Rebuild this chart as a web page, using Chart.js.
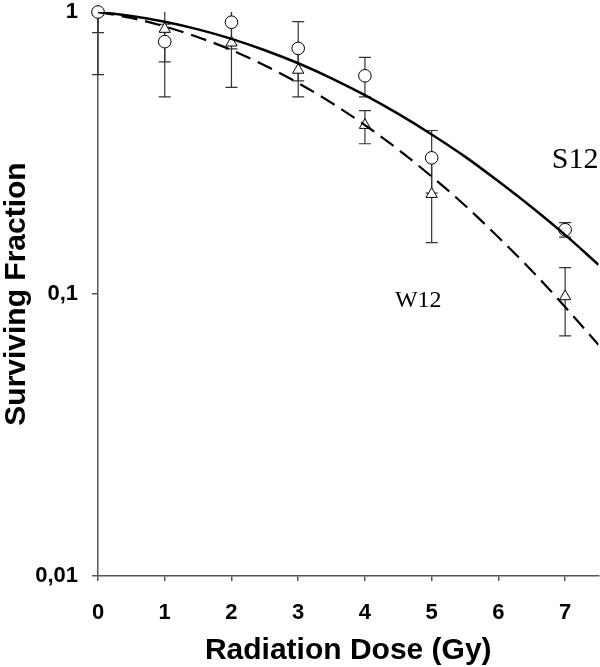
<!DOCTYPE html>
<html>
<head>
<meta charset="utf-8">
<script src="https://cdn.jsdelivr.net/npm/chart.js@4.4.1/dist/chart.umd.min.js"></script>
<style>
  body { margin: 0; background: #fff; overflow: hidden; }
  #wrap { width: 606px; height: 667px; }
</style>
</head>
<body>
<div id="wrap"><canvas id="myChart"></canvas></div>
<script>
/* measured points (dose in Gy) */
var doses = [0, 1, 2, 3, 4, 5, 7];
var s12Mean = [1.0, 0.785, 0.92, 0.743, 0.594, 0.304, 0.169];
var s12Low = [0.845, 0.665, 0.74, 0.57, 0.5, 0.228, 0.159];
var s12High = [1.155, 0.905, 1.1, 0.925, 0.69, 0.38, 0.179];
var w12Mean = [1.0, 0.87, 0.778, 0.623, 0.397, 0.226, 0.098];
var w12Low = [0.6, 0.5, 0.54, 0.5, 0.341, 0.152, 0.071];
var w12High = [1.4, 1.24, 1.02, 0.745, 0.447, 0.30, 0.124];

/* fitted curves */
var fitDoses = [0, 0.5, 1, 1.5, 2, 2.5, 3, 3.5, 4, 4.5, 5, 5.5, 6, 6.5, 7, 7.5];
var s12Fit = [1, 0.968, 0.924, 0.868, 0.803, 0.732, 0.658, 0.582, 0.507, 0.435, 0.368, 0.307, 0.251, 0.203, 0.162, 0.127];
var w12Fit = [1, 0.952, 0.889, 0.814, 0.733, 0.646, 0.560, 0.476, 0.397, 0.325, 0.261, 0.206, 0.159, 0.121, 0.090, 0.066];

/* axes */
var xTicks = [0, 1, 2, 3, 4, 5, 6, 7];
var yTicks = [0.01, 0.1, 1];
var yTickLabels = ['0,01', '0,1', '1'];

/* curve labels (data coords) */
var curveLabels = ['S12', 'W12'];
var curveLabelX = [6.8, 4.45];
var curveLabelY = [0.28, 0.09];

function toPoints(xs, ys) {
  return xs.map(function(x, i) { return {x: x, y: ys[i]}; });
}

/* draws the error bars under the markers */
var errorBars = {
  id: 'errorBars',
  beforeDatasetsDraw: function(chart) {
    var ctx = chart.ctx;
    var xs = chart.scales.x, ys = chart.scales.y;
    var area = chart.chartArea;
    ctx.save();
    ctx.beginPath();
    ctx.rect(area.left - 10, area.top, area.right - area.left + 20, area.bottom - area.top);
    ctx.clip();
    ctx.strokeStyle = '#333';
    ctx.lineWidth = 1.2;
    [[s12Low, s12High], [w12Low, w12High]].forEach(function(pair) {
      doses.forEach(function(d, i) {
        var px = xs.getPixelForValue(d);
        var lo = ys.getPixelForValue(pair[0][i]);
        var hi = ys.getPixelForValue(pair[1][i]);
        ctx.beginPath();
        ctx.moveTo(px, lo); ctx.lineTo(px, hi);
        ctx.moveTo(px - 6, lo); ctx.lineTo(px + 6, lo);
        ctx.moveTo(px - 6, hi); ctx.lineTo(px + 6, hi);
        ctx.stroke();
      });
    });
    ctx.restore();
  }
};

/* S12 / W12 text next to curves */
var curveText = {
  id: 'curveText',
  afterDraw: function(chart) {
    var ctx = chart.ctx;
    ctx.save();
    ctx.fillStyle = '#000';
    ctx.textBaseline = 'alphabetic';
    ctx.textAlign = 'left';
    curveLabels.forEach(function(t, i) {
      ctx.font = (i == 0 ? '30px' : '24px') + ' "Liberation Serif", "Times New Roman", serif';
      ctx.fillText(t, chart.scales.x.getPixelForValue(curveLabelX[i]), chart.scales.y.getPixelForValue(curveLabelY[i]));
    });
    ctx.restore();
  }
};

var axisColor = '#555';
var tickFont = {family: '"Liberation Sans", Arial, sans-serif', size: 22, weight: 'bold'};
var titleFont = {family: '"Liberation Sans", Arial, sans-serif', size: 30, weight: 'bold', lineHeight: 1.1};

var config = {
  data: {
    datasets: [
      {
        type: 'line', label: 'S12 fit', data: toPoints(fitDoses, s12Fit),
        borderColor: '#000', borderWidth: 2.5, pointRadius: 0,
        cubicInterpolationMode: 'monotone', fill: false, order: 0
      },
      {
        type: 'line', label: 'W12 fit', data: toPoints(fitDoses, w12Fit),
        borderColor: '#000', borderWidth: 2.2, borderDash: [16, 8], pointRadius: 0,
        cubicInterpolationMode: 'monotone', fill: false, order: 0
      },
      {
        type: 'scatter', label: 'W12', data: toPoints(doses, w12Mean),
        pointStyle: 'triangle', pointRadius: 6.5, pointBackgroundColor: '#fff',
        pointBorderColor: '#000', pointBorderWidth: 1, clip: false, order: 2
      },
      {
        type: 'scatter', label: 'S12', data: toPoints(doses, s12Mean),
        pointStyle: 'circle', pointRadius: 6.3, pointBackgroundColor: '#fff',
        pointBorderColor: '#000', pointBorderWidth: 1, clip: false, order: 1
      }
    ]
  },
  options: {
    responsive: true,
    maintainAspectRatio: false,
    animation: false,
    layout: { padding: { top: 12, right: 1, left: 0, bottom: 0 } },
    plugins: { legend: { display: false }, tooltip: { enabled: false } },
    scales: {
      x: {
        type: 'linear', min: 0, max: 7.5,
        afterBuildTicks: function(scale) {
          scale.ticks = xTicks.map(function(v) { return {value: v}; });
        },
        afterFit: function(scale) {
          scale.height = 91;
          scale.paddingLeft = 0; scale.paddingRight = 0;
        },
        border: { display: true, color: axisColor, width: 1.5 },
        grid: { drawOnChartArea: false, drawTicks: true, tickLength: 5, color: axisColor, lineWidth: 1.5 },
        ticks: { color: '#000', font: tickFont, padding: 19, maxRotation: 0,
          callback: function(v) { return String(v); } },
        title: { display: true, text: 'Radiation Dose (Gy)', color: '#000', font: titleFont, padding: 0 }
      },
      y: {
        type: 'logarithmic', min: 0.01, max: 1,
        afterBuildTicks: function(scale) {
          scale.ticks = yTicks.map(function(v) { return {value: v}; });
        },
        afterFit: function(scale) {
          scale.width = 98;
          scale.paddingTop = 0; scale.paddingBottom = 0;
        },
        border: { display: true, color: axisColor, width: 1.5 },
        grid: { drawOnChartArea: false, drawTicks: true, tickLength: 6, color: axisColor, lineWidth: 1.5 },
        ticks: { color: '#000', font: tickFont, padding: 14,
          callback: function(v) { var i = yTicks.indexOf(v); return i >= 0 ? yTickLabels[i] : ''; } },
        title: { display: true, text: 'Surviving Fraction', color: '#000', font: titleFont, padding: 0 }
      }
    }
  },
  plugins: [errorBars, curveText]
};

window.onload = function() {
  var ctx = document.getElementById('myChart').getContext('2d');
  window.survChart = new Chart(ctx, config);
};
</script>
</body>
</html>
